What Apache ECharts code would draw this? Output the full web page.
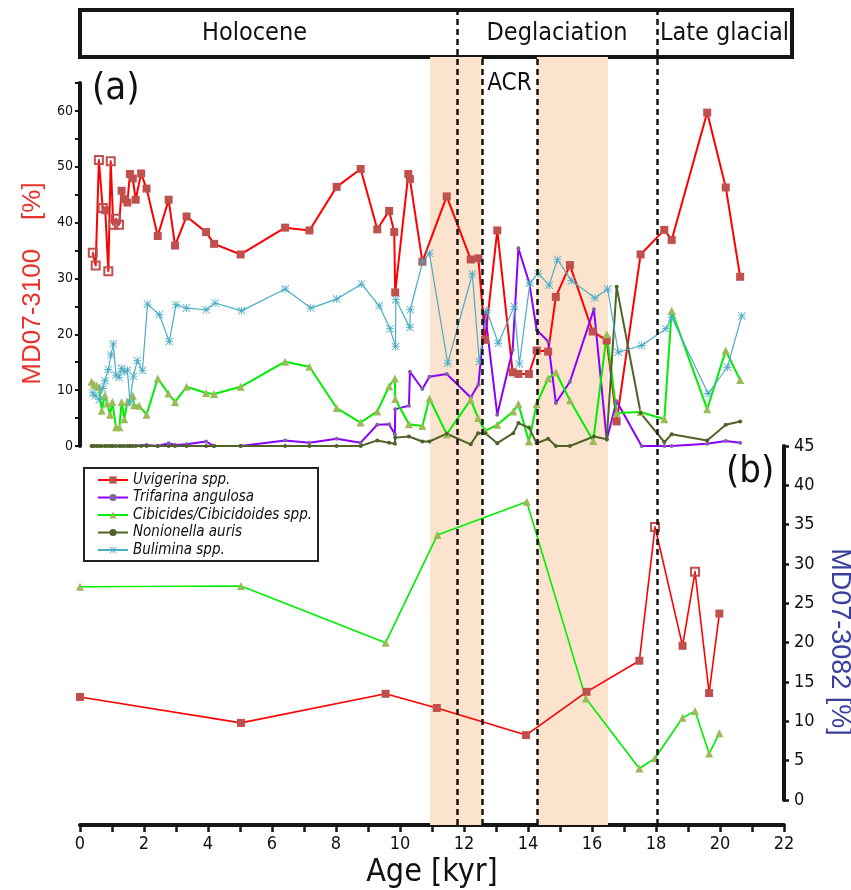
<!DOCTYPE html>
<html>
<head>
<meta charset="utf-8">
<script src="https://cdn.jsdelivr.net/npm/echarts@6/dist/echarts.min.js"></script>
<style>
  html, body { margin: 0; background: #fff; }
  #chart { width: 851px; height: 890px; }
</style>
</head>
<body>
<div id="chart"></div>
<script>
// Benthic foraminifera percentages, cores MD07-3100 (a) and MD07-3082 (b)

const FONT = "'Liberation Sans Narrow', 'DejaVu Sans Condensed', 'Liberation Sans', sans-serif"
const NAME_FONT = "'Liberation Sans', 'Open Sans', sans-serif"

// ---- panel (a): MD07-3100 ----
const UVI_A_AGE = [0.40, 0.49, 0.59, 0.71, 0.79, 0.885, 0.96, 1.04, 1.125, 1.22, 1.30, 1.385, 1.48, 1.56, 1.65,
  1.74, 1.91, 2.08, 2.43, 2.77, 2.97, 3.33, 3.94, 4.19, 5.02, 6.41, 7.17, 8.02, 8.77, 9.29, 9.66, 9.82, 9.85,
  10.26, 10.31, 10.70, 11.46, 12.21, 12.45, 12.66, 13.04, 13.52, 13.70, 14.03, 14.27, 14.63, 14.87, 15.31,
  16.02, 16.46, 16.77, 17.52, 18.26, 18.49, 19.60, 20.18, 20.63]
const UVI_A_PCT = [34.6, 32.3, 51.2, 42.6, 42.2, 31.3, 51.0, 39.6, 40.7, 39.6, 45.7, 44.2, 43.6, 48.7, 47.9,
  44.1, 48.8, 46.1, 37.6, 44.1, 35.9, 41.1, 38.3, 36.2, 34.3, 39.1, 38.6, 46.4, 49.6, 38.8, 42.1, 38.3, 27.5,
  48.7, 47.8, 33.0, 44.7, 33.4, 33.6, 19.0, 38.6, 13.2, 12.9, 12.9, 17.1, 16.9, 26.7, 32.4,
  20.5, 18.9, 4.4, 34.3, 38.7, 36.9, 59.7, 46.3, 30.3]
const UVI_A_OPEN = [0.40, 0.49, 0.59, 0.71, 0.885, 0.96, 1.04, 1.125, 1.22]

const TRI_A_AGE = [0.40, 1.04, 1.56, 2.08, 2.43, 2.77, 2.97, 3.33, 3.94, 4.19, 5.02, 6.41, 7.17, 8.02, 8.77,
  9.29, 9.66, 9.84, 9.85, 10.28, 10.31, 10.70, 10.92, 11.46, 12.21, 12.45, 12.66, 13.04, 13.52, 13.70, 14.04,
  14.27, 14.63, 14.87, 15.31, 16.06, 16.46, 16.77, 17.55, 18.26, 18.49, 19.60, 20.18, 20.63]
const TRI_A_PCT = [0, 0, 0, 0.2, 0, 0.5, 0.2, 0.3, 0.8, 0, 0, 1.0, 0.6, 1.3, 0.6,
  3.8, 3.9, 2.1, 6.6, 7.2, 13.3, 10.2, 12.4, 12.9, 8.7, 11.0, 23.8, 5.6, 17.2, 35.4, 29.2,
  20.8, 18.7, 7.7, 11.5, 24.5, 1.15, 8.0, 0, 0, 0, 0.4, 0.9, 0.6]

const CIB_A_AGE = [0.36, 0.44, 0.52, 0.60, 0.68, 0.78, 0.85, 0.94, 1.01, 1.125, 1.23, 1.30, 1.385, 1.48, 1.65,
  1.69, 1.85, 2.08, 2.43, 2.76, 2.97, 3.33, 3.94, 4.19, 5.02, 6.41, 7.17, 8.02, 8.77, 9.29, 9.66, 9.84, 9.85,
  10.28, 10.70, 10.92, 11.46, 12.21, 12.44, 12.66, 13.04, 13.54, 13.70, 14.03, 14.27, 14.63, 14.87, 15.31,
  16.04, 16.46, 16.77, 17.52, 18.26, 18.49, 19.60, 20.18, 20.63]
const CIB_A_PCT = [11.5, 11.0, 10.8, 10.5, 6.3, 9.1, 7.6, 5.6, 7.9, 3.35, 3.35, 7.9, 4.8, 7.9, 9.0,
  7.3, 7.2, 5.6, 12.1, 9.4, 7.9, 10.6, 9.5, 9.3, 10.6, 15.1, 14.2, 6.8, 4.2, 6.2, 10.7, 12.1, 8.4,
  3.9, 3.6, 8.5, 2.1, 8.3, 5.0, 2.7, 3.8, 6.2, 7.5, 0.8, 7.5, 12.1, 13.2, 8.2,
  0.9, 20.0, 5.9, 6.1, 4.8, 24.2, 6.6, 17.1, 11.8]

const NON_A_AGE = [0.36, 0.44, 0.52, 0.60, 0.68, 0.78, 0.85, 0.94, 1.01, 1.125, 1.23, 1.30, 1.385, 1.48, 1.56,
  1.65, 1.74, 1.91, 2.08, 2.43, 2.77, 2.97, 3.33, 3.94, 4.19, 5.02, 6.41, 7.17, 8.02, 8.77, 9.29, 9.66, 9.84,
  9.85, 10.28, 10.70, 10.92, 11.46, 12.21, 12.44, 12.66, 13.04, 13.54, 13.70, 14.03, 14.27, 14.63, 14.87,
  15.31, 16.06, 16.46, 16.77, 17.52, 18.26, 18.49, 19.60, 20.18, 20.63]
const NON_A_PCT = [0, 0, 0, 0, 0, 0, 0, 0, 0, 0, 0, 0, 0, 0, 0,
  0, 0, 0, 0, 0, 0, 0, 0, 0, 0, 0, 0, 0, 0, 0, 1.0, 0.6, 0.4,
  1.5, 1.7, 0.8, 0.8, 2.2, 0.3, 2.3, 2.3, 0.5, 2.3, 4.1, 3.3, 0.5, 1.3, 0,
  0, 1.7, 1.2, 28.5, 5.9, 0.7, 2.1, 1.0, 3.8, 4.4]

const BUL_A_AGE = [0.40, 0.47, 0.60, 0.71, 0.78, 0.885, 0.97, 1.04, 1.125, 1.22, 1.30, 1.385, 1.48, 1.56, 1.67,
  1.79, 1.95, 2.11, 2.48, 2.79, 3.00, 3.33, 3.94, 4.22, 5.05, 6.41, 7.21, 8.02, 8.80, 9.35, 9.69, 9.86, 9.87,
  10.31, 10.32, 10.71, 10.92, 11.49, 12.26, 12.48, 12.71, 13.07, 13.57, 13.73, 14.06, 14.32, 14.66, 14.92,
  15.36, 16.09, 16.49, 16.82, 17.55, 18.31, 18.49, 19.63, 20.23, 20.68]
const BUL_A_PCT = [9.5, 9.0, 8.3, 10.3, 11.7, 13.7, 16.3, 18.3, 12.7, 12.3, 13.9, 13.3, 13.6, 7.9, 12.5,
  15.3, 13.5, 25.4, 23.5, 18.7, 25.3, 24.7, 24.4, 25.6, 24.2, 28.1, 24.7, 26.3, 29.0, 25.1, 21.0, 17.8, 26.2,
  21.2, 24.4, 33.0, 34.5, 14.8, 30.8, 15.1, 24.3, 18.4, 25.0, 14.7, 29.2, 30.9, 28.8, 33.4,
  29.6, 26.5, 28.1, 16.8, 18.0, 21.0, 23.0, 9.4, 14.1, 23.3]

// ---- panel (b): MD07-3082 ----
const UVI_B_AGE = [0, 5.03, 9.55, 11.15, 13.94, 15.83, 17.48, 17.97, 18.83, 19.22, 19.66, 19.98]
const UVI_B_PCT = [13.1, 9.8, 13.5, 11.7, 8.25, 13.75, 17.7, 34.7, 19.6, 29.0, 13.6, 23.7]
const UVI_B_OPEN = [17.97, 19.22]

const CIB_B_AGE = [0, 5.03, 9.55, 11.17, 13.96, 15.81, 17.48, 17.97, 18.83, 19.22, 19.66, 19.98]
const CIB_B_PCT = [27.1, 27.2, 20.0, 33.7, 37.9, 12.9, 4.0, 5.3, 10.45, 11.3, 5.9, 8.5]

// ---- annotations ----
const PERIODS = [["Holocene", 0, 11.78], ["Deglaciation", 11.78, 18.03], ["Late glacial", 18.03, 22.25]]
const SHADED = [[10.94, 12.56], [14.28, 16.5]]
const ACR = [12.56, 14.28]
const BOUNDARIES = [11.78, 12.56, 14.28, 18.03]
const BOUNDARY_THROUGH_BOX = [true, false, false, true]

const NAMES = ["Uvigerina spp.", "Trifarina angulosa", "Cibicides/Cibicidoides spp.", "Nonionella auris", "Bulimina spp."]

const BOX_BOTTOM = 0.9423 // overlay axis units (0 = age axis, 1 = top of box)

const OPEN_SQUARE = "path://M0 0H10V10H0Z M2 2V8H8V2Z M4 4H6V6H4Z"
const ASTERISK = "path://M9 0H11V20H9Z M0 9H20V11H0Z M1.4 0L20 18.6L18.6 20L0 1.4Z M18.6 0L20 1.4L1.4 20L0 18.6Z"

function pairs(ages, vals, openAges) {
  return ages.map((a, i) => {
    const item = {value: [a, vals[i]]}
    if (openAges && openAges.includes(a)) {
      item.symbol = OPEN_SQUARE
      item.symbolSize = 10
    }
    return item
  })
}

function lineSeries(name, data, axis, opts) {
  return {
    name,
    type: "line",
    xAxisIndex: axis,
    yAxisIndex: axis,
    data,
    z: 3,
    smooth: false,
    symbol: opts.symbol,
    symbolSize: opts.symbolSize,
    lineStyle: {color: opts.line, width: opts.width},
    itemStyle: {color: opts.marker},
    emphasis: {disabled: true},
  }
}

const uviStyle = {symbol: "rect", symbolSize: 8, line: "#ff0000", marker: "#c0504d", width: 2}
const triStyle = {symbol: "circle", symbolSize: 4, line: "#8a00ff", marker: "#8064a2", width: 2}
const cibStyle = {symbol: "triangle", symbolSize: 8, line: "#00ee00", marker: "#9bbb59", width: 2}
const nonStyle = {symbol: "circle", symbolSize: 4, line: "#4f6228", marker: "#4f6228", width: 2}
const bulStyle = {symbol: ASTERISK, symbolSize: 8, line: "#4bacc6", marker: "#4bacc6", width: 1.2}

const overlayAreas = [
  [{xAxis: 0, yAxis: BOX_BOTTOM, itemStyle: {color: "#fff", borderColor: "#151515", borderWidth: 4}},
    {xAxis: 22.25, yAxis: 1}],
  ...SHADED.map(([a, b]) => [{xAxis: a, yAxis: 0, itemStyle: {color: "#fbe3cd"}}, {xAxis: b, yAxis: BOX_BOTTOM}]),
  ...PERIODS.map(([label, a, b], i) => [
    {
      name: label, xAxis: a, yAxis: BOX_BOTTOM,
      itemStyle: {color: "transparent", borderWidth: 0},
      label: {show: true, position: "inside", offset: i === 0 ? [-14, 0] : [0, 0],
        fontFamily: FONT, fontSize: 25, color: "#111"},
    },
    {xAxis: b, yAxis: 1},
  ]),
  [{
    name: "ACR", xAxis: ACR[0], yAxis: 0.876,
    itemStyle: {color: "transparent", borderWidth: 0},
    label: {show: true, position: "inside", fontFamily: FONT, fontSize: 24, color: "#111"},
  }, {xAxis: ACR[1], yAxis: BOX_BOTTOM}],
]

const boundaryLines = BOUNDARIES.map((age, i) => [
  {coord: [age, 0]},
  {coord: [age, BOUNDARY_THROUGH_BOX[i] ? 1 : BOX_BOTTOM]},
])

const option = {
  animation: false,
  backgroundColor: "#fff",
  textStyle: {fontFamily: FONT},
  grid: [
    {left: 80, right: 67, top: 83, bottom: 444, outerBoundsMode: "none", containLabel: false},
    {left: 80, right: 67, top: 446, bottom: 90, outerBoundsMode: "none", containLabel: false},
    {left: 80, right: 59, top: 10, bottom: 65, outerBoundsMode: "none", containLabel: false},
  ],
  legend: {
    data: NAMES,
    orient: "vertical",
    left: 84,
    top: 468,
    itemWidth: 30,
    itemHeight: 9,
    itemGap: 1.5,
    padding: [4, 6, 3, 13],
    borderColor: "#222",
    borderWidth: 2,
    backgroundColor: "#fff",
    selectedMode: false,
    textStyle: {fontFamily: FONT, fontStyle: "italic", fontSize: 15, color: "#111", lineHeight: 16},
  },
  xAxis: [
    {gridIndex: 0, type: "value", min: 0, max: 22, show: false},
    {
      gridIndex: 1,
      type: "value",
      min: 0,
      max: 22,
      interval: 2,
      position: "bottom",
      offset: 25,
      name: "Age [kyr]",
      nameLocation: "middle",
      nameGap: 32,
      nameTextStyle: {fontFamily: FONT, fontSize: 32, color: "#111"},
      axisLine: {onZero: false, lineStyle: {color: "#151515", width: 4}},
      axisTick: {length: 7, lineStyle: {color: "#151515", width: 2.5}},
      minorTick: {show: true, splitNumber: 2, length: 7, lineStyle: {color: "#151515", width: 2.5}},
      axisLabel: {fontFamily: FONT, fontSize: 18, color: "#111", margin: 10},
      splitLine: {show: false},
    },
    {gridIndex: 2, type: "value", min: 0, max: 22.25, show: false},
  ],
  yAxis: [
    {
      gridIndex: 0,
      type: "value",
      min: 0,
      max: 65,
      interval: 5,
      position: "left",
      name: "MD07-3100    [%]",
      nameLocation: "middle",
      nameGap: 22,
      nameTextStyle: {fontFamily: NAME_FONT, fontSize: 26, color: "#e8332e", padding: [0, 38, 0, 0]},
      axisLine: {show: true, onZero: false, lineStyle: {color: "#151515", width: 4}},
      axisTick: {show: true, length: 5, lineStyle: {color: "#151515", width: 2}},
      axisLabel: {fontFamily: FONT, fontSize: 14, color: "#111", margin: 7,
        formatter: v => (v % 10 === 0 ? String(v) : "")},
      splitLine: {show: false},
    },
    {
      gridIndex: 1,
      type: "value",
      min: 0,
      max: 45,
      interval: 5,
      position: "right",
      name: "MD07-3082 [%]",
      nameLocation: "middle",
      nameRotate: -90,
      nameGap: 29,
      nameTextStyle: {fontFamily: NAME_FONT, fontSize: 27, color: "#3b3e9c", padding: [0, 0, 0, 38]},
      axisLine: {show: true, onZero: false, lineStyle: {color: "#151515", width: 4}},
      axisTick: {show: true, length: 5, lineStyle: {color: "#151515", width: 2.5}},
      axisLabel: {fontFamily: FONT, fontSize: 18, color: "#111", margin: 10},
      splitLine: {show: false},
    },
    {gridIndex: 2, type: "value", min: 0, max: 1, show: false},
  ],
  graphic: [
    {type: "text", left: 92, top: 70, style: {text: "(a)", font: `38px ${FONT}`, fill: "#111"}},
    {type: "text", left: 726, top: 453, style: {text: "(b)", font: `38px ${FONT}`, fill: "#111"}},
  ],
  series: [
    {
      type: "line",
      xAxisIndex: 2,
      yAxisIndex: 2,
      data: [],
      z: 1,
      silent: true,
      markArea: {silent: true, data: overlayAreas},
    },
    {
      type: "line",
      xAxisIndex: 2,
      yAxisIndex: 2,
      data: [],
      z: 5,
      silent: true,
      markLine: {
        silent: true,
        symbol: "none",
        label: {show: false},
        lineStyle: {color: "#151515", width: 2.5, type: [6, 4]},
        data: boundaryLines,
      },
    },
    lineSeries(NAMES[0], pairs(UVI_A_AGE, UVI_A_PCT, UVI_A_OPEN), 0, uviStyle),
    lineSeries(NAMES[1], pairs(TRI_A_AGE, TRI_A_PCT), 0, triStyle),
    lineSeries(NAMES[2], pairs(CIB_A_AGE, CIB_A_PCT), 0, cibStyle),
    lineSeries(NAMES[3], pairs(NON_A_AGE, NON_A_PCT), 0, nonStyle),
    lineSeries(NAMES[4], pairs(BUL_A_AGE, BUL_A_PCT), 0, bulStyle),
    lineSeries(NAMES[0], pairs(UVI_B_AGE, UVI_B_PCT, UVI_B_OPEN), 1, {...uviStyle, width: 1.6}),
    lineSeries(NAMES[2], pairs(CIB_B_AGE, CIB_B_PCT), 1, {...cibStyle, width: 1.6}),
  ],
}

const chart = echarts.init(document.getElementById("chart"), null, {renderer: "canvas"})
chart.setOption(option)
</script>
</body>
</html>
